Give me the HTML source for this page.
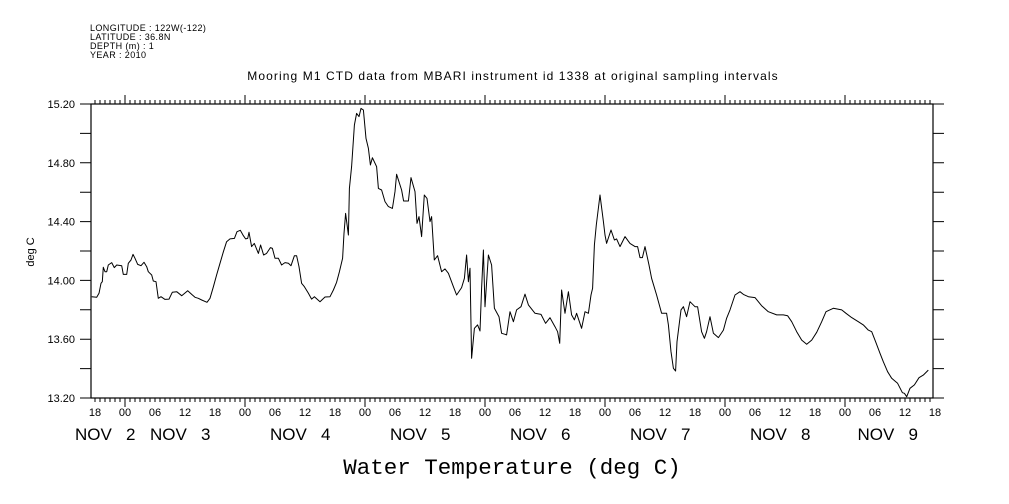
<!DOCTYPE html>
<html><head><meta charset="utf-8"><style>
html,body{margin:0;padding:0;background:#fff;}
svg{display:block;}
text{font-family:"Liberation Sans",sans-serif;fill:#000;}
</style></head><body>
<svg id="chart" width="1009" height="504" viewBox="0 0 1009 504" xmlns="http://www.w3.org/2000/svg">
<g font-size="9" letter-spacing="0.4">
<text x="90" y="31">LONGITUDE : 122W(-122)</text>
<text x="90" y="40">LATITUDE : 36.8N</text>
<text x="90" y="49">DEPTH (m) : 1</text>
<text x="90" y="58">YEAR : 2010</text>
</g>
<text x="513" y="80" text-anchor="middle" font-size="12" letter-spacing="1.1">Mooring M1 CTD data from MBARI instrument id 1338 at original sampling intervals</text>
<text transform="translate(34,252) rotate(-90)" text-anchor="middle" font-size="11">deg C</text>
<text x="512" y="474" text-anchor="middle" font-size="22.5" style="font-family:'Liberation Mono',monospace">Water Temperature (deg C)</text>
<g id="axes"></g>
<g id="series"></g>
</svg>
<script>
// hours since Nov 2 00:00
var hours = [-6.67,-5.67,-5.2,-4.8,-4.53,-4.33,-4,-3.67,-3.33,-2.67,-2.13,-1.67,-0.67,-0.33,0.33,0.67,1.2,1.6,2,2.53,3.2,3.8,4.33,4.67,5.33,5.67,6.2,6.67,7.2,8,8.8,9.47,10.33,11.33,12.53,13.33,14,14.67,15.33,16.4,17,17.67,18.33,19,19.67,20.33,21,21.87,22.4,23.07,23.67,24.13,24.53,24.8,25.33,25.87,26.67,27.13,27.73,28.33,29.07,29.47,30,30.67,31.33,32,32.67,33.2,33.87,34.33,34.8,35.33,35.87,36.67,37.33,37.87,39,40,41,41.67,42.33,42.87,43.53,43.8,44.13,44.67,44.87,45.33,45.87,46.33,46.8,47.2,47.67,48.2,48.67,49.07,49.47,50.33,50.67,51.33,52,52.67,53.47,54,54.33,55.33,55.73,56.67,57.2,58,58.4,58.8,59.33,59.87,60.4,61,61.33,61.87,62.53,63.33,64,64.67,65.67,66.33,67.33,67.87,68.33,68.67,69,69.33,69.87,70.53,71,71.33,71.67,72,72.67,73.33,73.87,74.8,75.33,76,76.33,77,77.67,78.33,79.2,80,80.67,82,83.2,84.13,85,86,86.53,86.93,87.33,88,88.67,89.33,89.87,90.33,91.33,92,92.67,93.2,93.53,93.87,94.27,95,95.67,96,96.33,97.2,97.87,98.33,99,100,101,102,102.53,103,103.47,104,104.8,105.33,106.33,107.33,108.33,108.67,109.2,109.67,110.13,110.4,111.2,111.67,112.33,113,114,114.53,115.33,115.87,116.33,117,117.67,118.67,119.67,120.33,121,122,123,123.67,124.67,126,127.33,128.67,130.33,131.67,132.53,133.33,134.33,135.33,136.33,137.33,138.33,139.33,140.2,141.67,143.33,144.2,145.33,146.67,147.67,148.67,149.33,150.13,151,151.67,152.53,153.33,154.53,155.47,155.87,156.33,157,157.87,158.8,159.67,160.67];
var temps = [13.889,13.885,13.912,13.98,13.991,14.089,14.059,14.059,14.105,14.121,14.087,14.105,14.1,14.041,14.041,14.116,14.139,14.177,14.15,14.109,14.1,14.123,14.093,14.059,14.037,13.996,13.991,13.878,13.889,13.871,13.873,13.919,13.923,13.896,13.93,13.905,13.885,13.878,13.867,13.851,13.878,13.957,14.037,14.116,14.195,14.263,14.282,14.286,14.331,14.341,14.304,14.282,14.286,14.327,14.23,14.252,14.184,14.241,14.173,14.184,14.223,14.218,14.15,14.15,14.105,14.121,14.116,14.1,14.168,14.168,14.093,13.98,13.957,13.912,13.873,13.889,13.855,13.887,13.889,13.935,13.987,14.059,14.15,14.32,14.456,14.309,14.626,14.774,15.057,15.136,15.114,15.17,15.159,14.966,14.898,14.785,14.835,14.774,14.626,14.615,14.536,14.502,14.49,14.604,14.722,14.615,14.54,14.54,14.699,14.604,14.388,14.434,14.298,14.581,14.558,14.4,14.434,14.139,14.168,14.059,14.078,14.048,13.957,13.901,13.951,14.014,14.173,13.991,14.082,13.47,13.674,13.697,13.656,13.946,14.207,13.821,14.173,14.105,13.81,13.753,13.64,13.633,13.629,13.787,13.719,13.799,13.821,13.907,13.833,13.776,13.769,13.708,13.746,13.685,13.651,13.572,13.935,13.776,13.923,13.765,13.731,13.776,13.674,13.787,13.776,13.901,13.946,14.241,14.377,14.581,14.4,14.309,14.252,14.343,14.275,14.282,14.23,14.298,14.252,14.23,14.23,14.155,14.155,14.23,14.105,14.014,13.901,13.776,13.776,13.697,13.515,13.402,13.384,13.583,13.799,13.821,13.753,13.855,13.821,13.821,13.651,13.606,13.651,13.753,13.64,13.611,13.662,13.742,13.799,13.901,13.923,13.905,13.889,13.883,13.828,13.787,13.765,13.765,13.76,13.719,13.651,13.594,13.565,13.594,13.647,13.719,13.787,13.81,13.799,13.776,13.747,13.719,13.697,13.662,13.651,13.583,13.504,13.447,13.379,13.334,13.3,13.236,13.232,13.209,13.266,13.289,13.338,13.356,13.39,13.436];
var yTicks = [13.2,13.4,13.6,13.8,14.0,14.2,14.4,14.6,14.8,15.0,15.2];
var yLabels = ["13.20","13.60","14.00","14.40","14.80","15.20"];
var dateLabels = ["NOV   2","NOV   3","NOV   4","NOV   5","NOV   6","NOV   7","NOV   8","NOV   9"];
var dateLabelHours = [-10,5,29,53,77,101,125,146.5];

var L=91,R=933,T=104,B=398,H0=125,PXH=5;
function xs(h){return H0+h*PXH;}
function ys(v){return B-(v-13.2)*(B-T)/2.0;}
var NS="http://www.w3.org/2000/svg";
function mk(tag,at,parent){var e=document.createElementNS(NS,tag);for(var k in at)e.setAttribute(k,at[k]);parent.appendChild(e);return e;}
var axes=document.getElementById('axes');
var frame=mk('rect',{x:L,y:T,width:R-L,height:B-T,fill:'none',stroke:'#000','stroke-width':1.2},axes);


var d='';
for(var h=-6;h<=161;h++){var x=xs(h);if(x<L||x>R)continue;var len=(h%24===0)?9:4;
 d+='M'+x+' '+T+'V'+(T-len)+'M'+x+' '+B+'V'+(B+len);}
var xt=mk('path',{d:d,stroke:'#000','stroke-width':1,fill:'none'},axes);


var yd='';
yTicks.forEach(function(v){var y=ys(v);yd+='M'+(L-11)+' '+y+'H'+L+'M'+R+' '+y+'H'+(R+11);});
var ytk=mk('path',{d:yd,stroke:'#000','stroke-width':1,fill:'none'},axes);


yLabels.forEach(function(s){var t=mk('text',{x:75,y:ys(parseFloat(s))+4,'text-anchor':'end','font-size':11},axes);t.textContent=s;
 
 });
for(var h2=-6;h2<=162;h2+=6){var hv=((h2%24)+24)%24;var s=(hv<10?'0':'')+hv;
 var t=mk('text',{x:xs(h2),y:416,'text-anchor':'middle','font-size':11},axes);t.textContent=s;
 
 }
dateLabels.forEach(function(s,i){var t=mk('text',{x:xs(dateLabelHours[i]),y:440,'font-size':17},axes);t.textContent=s;t.style.whiteSpace='pre';
 
 });
var pd='';
for(var i=0;i<hours.length;i++){pd+=(i?'L':'M')+xs(hours[i]).toFixed(1)+' '+ys(temps[i]).toFixed(1);}
var line=mk('path',{d:pd,stroke:'#000','stroke-width':1,fill:'none','stroke-linejoin':'round'},document.getElementById('series'));


</script>
</body></html>
